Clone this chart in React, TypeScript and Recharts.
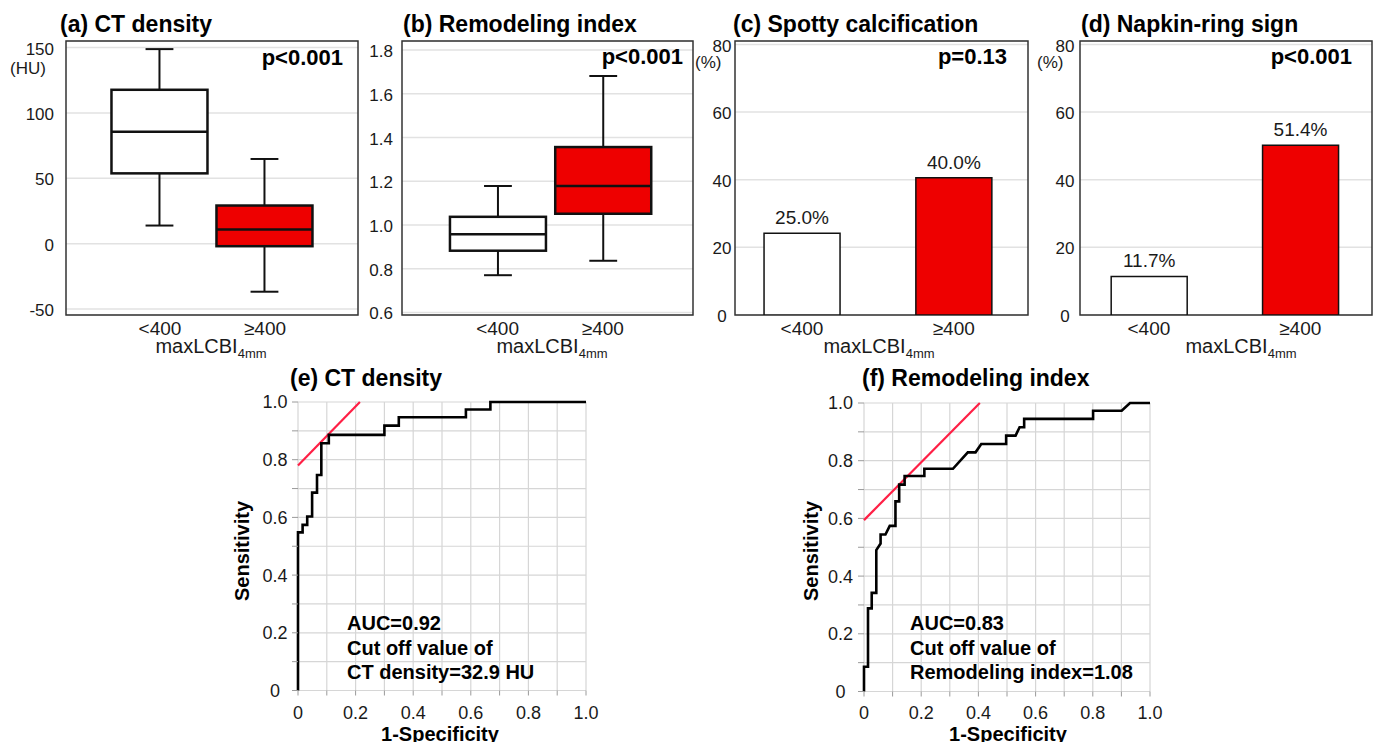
import React from "react";
import {
  ComposedChart,
  BarChart,
  LineChart,
  Bar,
  Line,
  XAxis,
  YAxis,
  CartesianGrid,
  ReferenceArea,
  Cell,
  LabelList,
} from "recharts";

const FONT = '"Liberation Sans", Arial, Helvetica, sans-serif';
const RED = "#ee0000";
const FRAME = "#333333";
const GRID = "#e2e2e2";
const TEXT = "#1a1a1a";

// top row: two groups of maxLCBI4mm
const groups = ["<400", "≥400"];
const groupPos = [1, 2];
const groupFill = ["#ffffff", RED];

// (a) CT density (HU)
const ctMin = [13.9, -36.7];
const ctQ1 = [53.8, -1.9];
const ctMedian = [85.6, 10.8];
const ctQ3 = [117.7, 29.2];
const ctMax = [148.8, 64.8];
const ctTicks = [-50, 0, 50, 100, 150];

// (b) remodeling index
const riMin = [0.77, 0.836];
const riQ1 = [0.882, 1.051];
const riMedian = [0.957, 1.178];
const riQ3 = [1.037, 1.356];
const riMax = [1.178, 1.681];
const riTicks = [0.6, 0.8, 1.0, 1.2, 1.4, 1.6, 1.8];

// (c) spotty calcification, (d) napkin-ring sign
const spottyPct = [24.2, 40.6];
const spottyLabels = ["25.0%", "40.0%"];
const napkinPct = [11.4, 50.2];
const napkinLabels = ["11.7%", "51.4%"];
const pctTicks = [0, 20, 40, 60, 80];

// (e) ROC of CT density
const ctRocX = [0, 0, 0.016, 0.016, 0.032, 0.032, 0.049, 0.049, 0.066, 0.066, 0.081, 0.081, 0.107, 0.107, 0.3, 0.3, 0.35, 0.35, 0.583, 0.583, 0.668, 0.668, 1.0];
const ctRocY = [0, 0.548, 0.548, 0.574, 0.574, 0.603, 0.603, 0.686, 0.686, 0.747, 0.747, 0.857, 0.857, 0.886, 0.886, 0.918, 0.918, 0.947, 0.947, 0.974, 0.974, 1.0, 1.0];
const ctTangentX = [0, 0.215];
const ctTangentY = [0.78, 1.0];

// (f) ROC of remodeling index
const riRocX = [0, 0, 0.014, 0.014, 0.027, 0.027, 0.043, 0.043, 0.058, 0.058, 0.075, 0.09, 0.11, 0.11, 0.123, 0.123, 0.142, 0.142, 0.211, 0.211, 0.311, 0.363, 0.39, 0.41, 0.497, 0.497, 0.53, 0.544, 0.56, 0.56, 0.801, 0.801, 0.901, 0.93, 1.0];
const riRocY = [0, 0.086, 0.086, 0.288, 0.288, 0.342, 0.342, 0.49, 0.513, 0.544, 0.544, 0.574, 0.574, 0.659, 0.659, 0.717, 0.717, 0.747, 0.747, 0.772, 0.772, 0.829, 0.829, 0.858, 0.858, 0.887, 0.887, 0.916, 0.916, 0.945, 0.945, 0.973, 0.973, 1.0, 1.0];
const riTangentX = [0, 0.405];
const riTangentY = [0.594, 1.0];

const rocTicks = [0, 0.05, 0.1, 0.15, 0.2, 0.25, 0.3, 0.35, 0.4, 0.45, 0.5, 0.55, 0.6, 0.65, 0.7, 0.75, 0.8, 0.85, 0.9, 0.95, 1.0];
const rocGrid = [0, 0.1, 0.2, 0.3, 0.4, 0.5, 0.6, 0.7, 0.8, 0.9, 1.0];

const rocLabel = (v: number) => {
  if (Math.round(v * 100) % 20 !== 0) return "";
  return v === 0 ? "0" : v.toFixed(1);
};

const yTick =
  (x: number, anchor: string, fmt: (v: number) => string, size: number, shift = 0) =>
  (props: any) => {
    const label = fmt(props.payload.value);
    if (!label) return <g />;
    return (
      <text x={x} y={props.y + shift} dy="0.36em" textAnchor={anchor} fontSize={size} fill={TEXT} fontFamily={FONT}>
        {label}
      </text>
    );
  };

const xTick =
  (y: number, fmt: (v: number) => string, size: number) =>
  (props: any) => {
    const label = fmt(props.payload.value);
    if (!label) return <g />;
    return (
      <text x={props.x} y={y} textAnchor="middle" fontSize={size} fill={TEXT} fontFamily={FONT}>
        {label}
      </text>
    );
  };

const groupName = (v: number) => groups[groupPos.indexOf(v)] ?? "";

const BoxShape = (props: any) => {
  const { x, y, width, height, payload } = props;
  const top = Math.min(y, y + height);
  const h = Math.abs(height);
  const span = payload.max - payload.min;
  const py = (v: number) => top + ((payload.max - v) / span) * h;
  const cx = x + width / 2;
  const cap = width * 0.29;
  return (
    <g stroke="#111" fill="none">
      <line x1={cx} x2={cx} y1={py(payload.max)} y2={py(payload.q3)} strokeWidth={2} />
      <line x1={cx} x2={cx} y1={py(payload.q1)} y2={py(payload.min)} strokeWidth={2} />
      <line x1={cx - cap / 2} x2={cx + cap / 2} y1={py(payload.max)} y2={py(payload.max)} strokeWidth={2} />
      <line x1={cx - cap / 2} x2={cx + cap / 2} y1={py(payload.min)} y2={py(payload.min)} strokeWidth={2} />
      <rect x={x} y={py(payload.q3)} width={width} height={py(payload.q1) - py(payload.q3)} fill={payload.fill} strokeWidth={2.5} />
      <line x1={x} x2={x + width} y1={py(payload.median)} y2={py(payload.median)} strokeWidth={2.5} />
    </g>
  );
};

function BoxPanel(p: {
  width: number;
  yAxisWidth: number;
  marginRight: number;
  xDomain: number[];
  yDomain: number[];
  ticks: number[];
  mins: number[];
  q1s: number[];
  medians: number[];
  q3s: number[];
  maxs: number[];
  tickX: number;
  fmt: (v: number) => string;
}) {
  const data = groups.map((g, i) => ({
    pos: groupPos[i],
    name: g,
    range: [p.mins[i], p.maxs[i]],
    min: p.mins[i],
    q1: p.q1s[i],
    median: p.medians[i],
    q3: p.q3s[i],
    max: p.maxs[i],
    fill: groupFill[i],
  }));
  return (
    <ComposedChart width={p.width} height={365} data={data} margin={{ top: 41, right: p.marginRight, bottom: 0, left: 0 }}>
      <CartesianGrid vertical={false} stroke={GRID} strokeWidth={1.5} />
      <XAxis dataKey="pos" type="number" domain={p.xDomain} ticks={groupPos} allowDataOverflow axisLine={false} tickLine={false} height={50} tick={xTick(335, groupName, 19)} />
      <YAxis type="number" domain={p.yDomain} ticks={p.ticks} allowDataOverflow axisLine={false} tickLine={false} width={p.yAxisWidth} tick={yTick(p.tickX, "end", p.fmt, 17, 1)} />
      <Bar dataKey="range" barSize={96} shape={BoxShape} isAnimationActive={false} />
      <ReferenceArea x1={p.xDomain[0]} x2={p.xDomain[1]} y1={p.yDomain[0]} y2={p.yDomain[1]} fill="none" fillOpacity={0} stroke={FRAME} strokeWidth={1.5} />
    </ComposedChart>
  );
}

function PctPanel(p: { width: number; yAxisWidth: number; xDomain: number[]; values: number[]; labels: string[]; tickX: number }) {
  const data = groups.map((g, i) => ({ pos: groupPos[i], name: g, pct: p.values[i], label: p.labels[i] }));
  const yDomain = [0, 81];
  return (
    <BarChart width={p.width} height={365} data={data} margin={{ top: 41, right: 4, bottom: 0, left: 0 }}>
      <CartesianGrid vertical={false} stroke={GRID} strokeWidth={1.5} />
      <XAxis dataKey="pos" type="number" domain={p.xDomain} ticks={groupPos} allowDataOverflow axisLine={false} tickLine={false} height={50} tick={xTick(335, groupName, 19)} />
      <YAxis type="number" domain={yDomain} ticks={pctTicks} allowDataOverflow axisLine={false} tickLine={false} width={p.yAxisWidth} tick={yTick(p.tickX, "middle", (v) => String(v), 17, 1)} />
      <Bar dataKey="pct" barSize={76} stroke="#111" strokeWidth={1.5} isAnimationActive={false}>
        {data.map((d, i) => (
          <Cell key={d.name} fill={groupFill[i]} />
        ))}
        <LabelList dataKey="label" position="top" offset={9} fontSize={19} fill={TEXT} fontFamily={FONT} />
      </Bar>
      <ReferenceArea x1={p.xDomain[0]} x2={p.xDomain[1]} y1={yDomain[0]} y2={yDomain[1]} fill="none" fillOpacity={0} stroke={FRAME} strokeWidth={1.5} />
    </BarChart>
  );
}

function RocPanel(p: {
  width: number;
  marginRight: number;
  yAxisWidth: number;
  xAxisHeight: number;
  marginTop: number;
  tickX: number;
  rocX: number[];
  rocY: number[];
  tanX: number[];
  tanY: number[];
}) {
  const roc = p.rocX.map((x, i) => ({ x, y: p.rocY[i] }));
  const tangent = p.tanX.map((x, i) => ({ x, y: p.tanY[i] }));
  return (
    <LineChart width={p.width} height={362} margin={{ top: p.marginTop, right: p.marginRight, bottom: 0, left: 0 }}>
      <CartesianGrid stroke="#d6d6d6" strokeWidth={1.2} horizontalValues={rocGrid} verticalValues={rocGrid} />
      <XAxis dataKey="x" type="number" domain={[0, 1]} ticks={rocTicks} height={p.xAxisHeight} axisLine={false} tickLine={{ stroke: "#9a9a9a" }} tickSize={5} tick={xTick(339, rocLabel, 18)} />
      <YAxis type="number" domain={[0, 1]} ticks={rocTicks} width={p.yAxisWidth} axisLine={false} tickLine={{ stroke: "#9a9a9a" }} tickSize={6} tick={yTick(p.tickX, "middle", rocLabel, 18)} />
      <Line data={tangent} dataKey="y" type="linear" stroke="#ff1f45" strokeWidth={2.2} dot={false} isAnimationActive={false} />
      <Line data={roc} dataKey="y" type="linear" stroke="#000" strokeWidth={2.6} dot={false} isAnimationActive={false} />
    </LineChart>
  );
}

const SubLabel = ({ x }: { x: number }) => (
  <text x={x} y={353} textAnchor="middle" fontSize={20} fill={TEXT}>
    <tspan>maxLCBI</tspan>
    <tspan dy={5} fontSize={13}>4mm</tspan>
  </text>
);

export default function App() {
  const abs = (left: number, top: number): React.CSSProperties => ({ position: "absolute", left, top });
  return (
    <div style={{ position: "fixed", left: 0, top: 0, width: 1378, height: 742, background: "#fff", overflow: "hidden", fontFamily: FONT }}>
      <div style={abs(0, 0)}>
        <BoxPanel width={362} yAxisWidth={66} marginRight={4} xDomain={[0.105, 2.886]} yDomain={[-54.5, 155]} ticks={ctTicks} mins={ctMin} q1s={ctQ1} medians={ctMedian} q3s={ctQ3} maxs={ctMax} tickX={54} fmt={(v) => String(v)} />
      </div>
      <div style={abs(340, 0)}>
        <BoxPanel width={356} yAxisWidth={62} marginRight={3} xDomain={[0.092, 2.856]} yDomain={[0.588, 1.841]} ticks={riTicks} mins={riMin} q1s={riQ1} medians={riMedian} q3s={riQ3} maxs={riMax} tickX={53} fmt={(v) => v.toFixed(1)} />
      </div>
      <div style={abs(690, 0)}>
        <PctPanel width={342} yAxisWidth={45} xDomain={[0.559, 2.489]} values={spottyPct} labels={spottyLabels} tickX={32} />
      </div>
      <div style={abs(1030, 0)}>
        <PctPanel width={346} yAxisWidth={50} xDomain={[0.545, 2.474]} values={napkinPct} labels={napkinLabels} tickX={35} />
      </div>
      <div style={abs(230, 380)}>
        <RocPanel width={372} marginRight={16} yAxisWidth={68} xAxisHeight={51.5} marginTop={22} tickX={45} rocX={ctRocX} rocY={ctRocY} tanX={ctTangentX} tanY={ctTangentY} />
      </div>
      <div style={abs(800, 380)}>
        <RocPanel width={366} marginRight={16} yAxisWidth={64} xAxisHeight={50.5} marginTop={23} tickX={40.5} rocX={riRocX} rocY={riRocY} tanX={riTangentX} tanY={riTangentY} />
      </div>

      <svg width={1378} height={742} style={{ position: "absolute", left: 0, top: 0, pointerEvents: "none" }} fontFamily={FONT}>
        <g fontSize={23} fontWeight="bold" fill="#000">
          <text x={60} y={32}>(a) CT density</text>
          <text x={403} y={32}>(b) Remodeling index</text>
          <text x={733} y={32}>(c) Spotty calcification</text>
          <text x={1081} y={32}>(d) Napkin-ring sign</text>
          <text x={290} y={386}>(e) CT density</text>
          <text x={862} y={386}>(f) Remodeling index</text>
        </g>
        <g fontSize={22} fontWeight="bold" fill="#000" textAnchor="end">
          <text x={343} y={65}>p&lt;0.001</text>
          <text x={683} y={64}>p&lt;0.001</text>
          <text x={1007} y={64}>p=0.13</text>
          <text x={1352} y={64}>p&lt;0.001</text>
        </g>
        <g fontSize={17} fill={TEXT}>
          <text x={10} y={74}>(HU)</text>
          <text x={695} y={68}>(%)</text>
          <text x={1037} y={68}>(%)</text>
        </g>
        <SubLabel x={211} />
        <SubLabel x={552} />
        <SubLabel x={879} />
        <SubLabel x={1241} />
        <g fontSize={20} fontWeight="bold" fill="#000">
          <text transform="translate(249,551) rotate(-90)" textAnchor="middle">Sensitivity</text>
          <text transform="translate(818,551) rotate(-90)" textAnchor="middle">Sensitivity</text>
          <text x={440} y={741} textAnchor="middle">1-Specificity</text>
          <text x={1008} y={741} textAnchor="middle">1-Specificity</text>
          <text x={347} y={630}>AUC=0.92</text>
          <text x={347} y={654.5}>Cut off value of</text>
          <text x={347} y={679}>CT density=32.9 HU</text>
          <text x={910} y={630}>AUC=0.83</text>
          <text x={910} y={654.5}>Cut off value of</text>
          <text x={910} y={679}>Remodeling index=1.08</text>
        </g>
      </svg>
    </div>
  );
}
